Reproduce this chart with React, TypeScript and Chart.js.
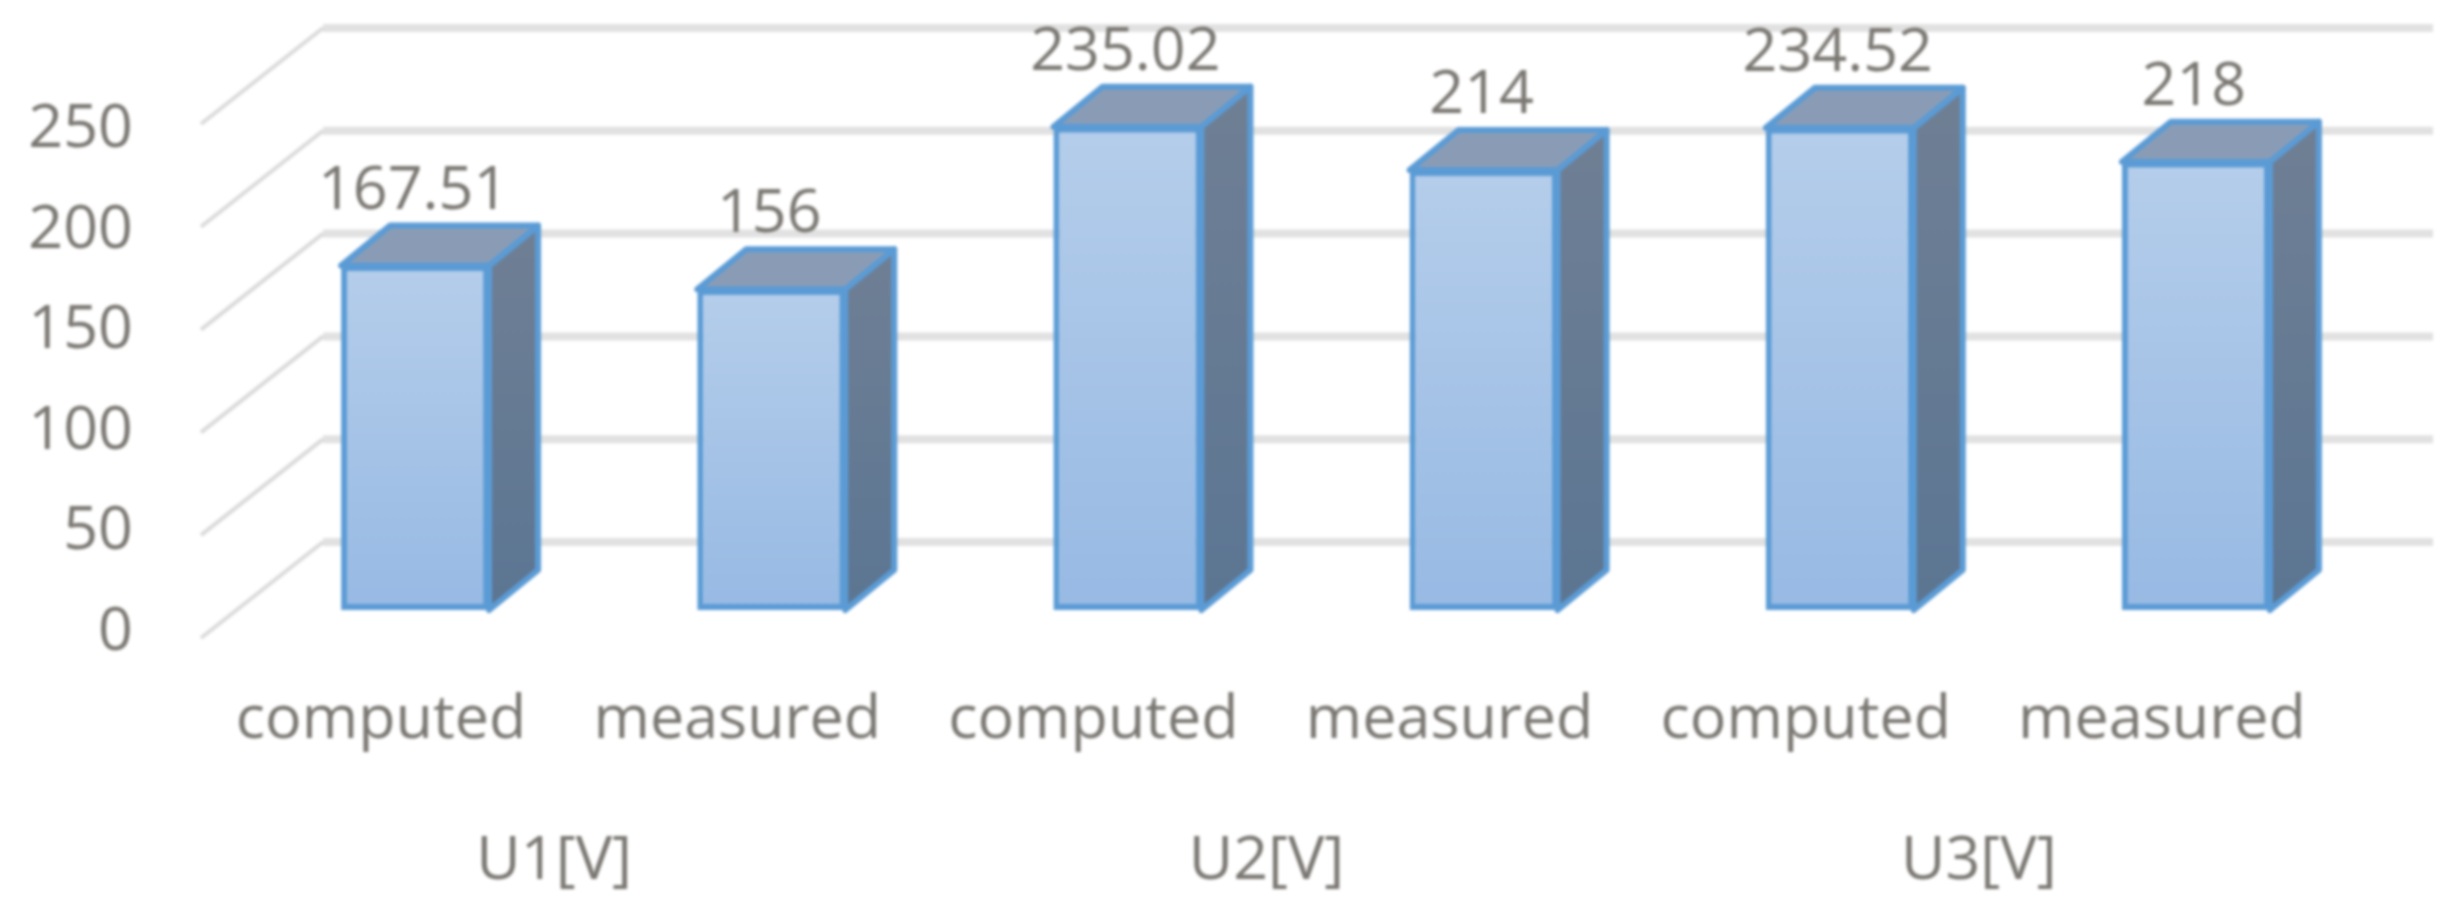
import React, { useEffect, useRef } from "react";
import { Chart, registerables } from "chart.js";

Chart.register(...registerables);

const categories = ["computed", "measured", "computed", "measured", "computed", "measured"];
const groups = ["U1[V]", "U2[V]", "U3[V]"];
const values = [167.51, 156, 235.02, 214, 234.52, 218];
const yTicks = [0, 50, 100, 150, 200, 250];

const FONT = { family: "'Open Sans'", size: 61 };
const TEXT = "#7b7873";
const EDGE = "#5b9bd5";
const W = 2451;
const H = 911;
const DEPTH_X = 49;
const DEPTH_Y = 40;

const fixTicks = (scale: any) => {
  scale.ticks = yTicks.map((value) => ({ value }));
};

const threeD = {
  id: "threeD",
  beforeDatasetsDraw(chart: any) {
    const { ctx, scales } = chart;
    const yS = scales.y;
    ctx.save();
    ctx.lineCap = "butt";
    for (const v of yTicks) {
      const by = yS.getPixelForValue(v) - 68;
      ctx.strokeStyle = "#e1e1e1";
      ctx.lineWidth = 8;
      ctx.beginPath();
      ctx.moveTo(323, by);
      ctx.lineTo(2433, by);
      ctx.stroke();
      ctx.strokeStyle = "#dadada";
      ctx.lineWidth = 4;
      ctx.beginPath();
      ctx.moveTo(323, by);
      ctx.lineTo(201, by + 96);
      ctx.stroke();
    }
    const meta = chart.getDatasetMeta(0);
    meta.data.forEach((bar: any) => {
      const l = bar.x - bar.width / 2;
      const r = bar.x + bar.width / 2;
      const t = bar.y;
      const b = bar.base;
      const side = ctx.createLinearGradient(0, t - DEPTH_Y, 0, b);
      side.addColorStop(0, "#6f7f94");
      side.addColorStop(1, "#5b7592");
      ctx.lineJoin = "round";
      ctx.lineWidth = 6;
      ctx.strokeStyle = EDGE;
      ctx.fillStyle = side;
      ctx.beginPath();
      ctx.moveTo(r, t);
      ctx.lineTo(r + DEPTH_X, t - DEPTH_Y);
      ctx.lineTo(r + DEPTH_X, b - DEPTH_Y);
      ctx.lineTo(r, b);
      ctx.closePath();
      ctx.fill();
      ctx.stroke();
      ctx.fillStyle = "#8a9cb5";
      ctx.beginPath();
      ctx.moveTo(l, t);
      ctx.lineTo(l + DEPTH_X, t - DEPTH_Y);
      ctx.lineTo(r + DEPTH_X, t - DEPTH_Y);
      ctx.lineTo(r, t);
      ctx.closePath();
      ctx.fill();
      ctx.stroke();
    });
    ctx.restore();
  },
  afterDatasetsDraw(chart: any) {
    const { ctx } = chart;
    const meta = chart.getDatasetMeta(0);
    ctx.save();
    ctx.font = `${FONT.size}px ${FONT.family}`;
    ctx.fillStyle = TEXT;
    ctx.textAlign = "center";
    ctx.textBaseline = "alphabetic";
    meta.data.forEach((bar: any, i: number) => {
      ctx.fillText(String(values[i]), bar.x - 2, bar.y - DEPTH_Y - 17);
    });
    ctx.restore();
  },
};

export default function App() {
  const ref = useRef<HTMLCanvasElement>(null);
  useEffect(() => {
    const chart = new Chart(ref.current!, {
      type: "bar",
      data: {
        labels: categories,
        datasets: [
          {
            data: values,
            xAxisID: "x",
            yAxisID: "y",
            base: 0,
            categoryPercentage: 1,
            barPercentage: 0.4155,
            borderColor: EDGE,
            borderWidth: 6,
            borderSkipped: false,
            backgroundColor: (c: any) => {
              const y = c.chart.scales?.y;
              if (!y || c.raw === undefined) return "#a6c3e7";
              const top = y.getPixelForValue(c.raw);
              const bottom = y.getPixelForValue(0);
              if (!Number.isFinite(top) || !Number.isFinite(bottom)) return "#a6c3e7";
              const g = c.chart.ctx.createLinearGradient(0, top, 0, bottom);
              g.addColorStop(0, "#b4cdea");
              g.addColorStop(1, "#97b9e3");
              return g;
            },
          } as any,
        ],
      },
      plugins: [threeD],
      options: {
        animation: false,
        responsive: false,
        layout: { padding: { top: 28, right: 77, left: 0, bottom: 0 } },
        plugins: { legend: { display: false }, tooltip: { enabled: false } },
        scales: {
          x: {
            type: "category",
            position: "bottom",
            weight: 0,
            offset: true,
            grid: { display: false, drawTicks: false },
            border: { display: false },
            ticks: { font: FONT, color: TEXT, padding: 44, labelOffset: -34, maxRotation: 0, autoSkip: false },
            afterFit: (s: any) => { s.height = 130; },
          },
          x2: {
            type: "category",
            labels: groups,
            position: "bottom",
            weight: 1,
            offset: true,
            grid: { display: false, drawTicks: false },
            border: { display: false },
            ticks: { font: FONT, color: TEXT, padding: 55, labelOffset: -39, maxRotation: 0, autoSkip: false },
            afterFit: (s: any) => { s.height = 141; },
          },
          y: {
            type: "linear",
            display: false,
            min: -14.6,
            max: 283.07,
            afterBuildTicks: fixTicks,
          },
          y2: {
            type: "linear",
            position: "left",
            min: -3.7,
            max: 300.46,
            grid: { display: false, drawTicks: false },
            border: { display: false },
            ticks: { font: FONT, color: TEXT, padding: 104 },
            afterBuildTicks: fixTicks,
            afterFit: (s: any) => { s.width = 237; s.paddingTop = 0; s.paddingBottom = 0; },
          },
        },
      } as any,
    });
    return () => chart.destroy();
  }, []);
  return (
    <div style={{ position: "fixed", left: 0, top: 0, width: W, height: H, background: "#fff", overflow: "hidden" }}>
      <canvas ref={ref} width={W} height={H} style={{ display: "block", filter: "blur(1.6px)" }} />
    </div>
  );
}
